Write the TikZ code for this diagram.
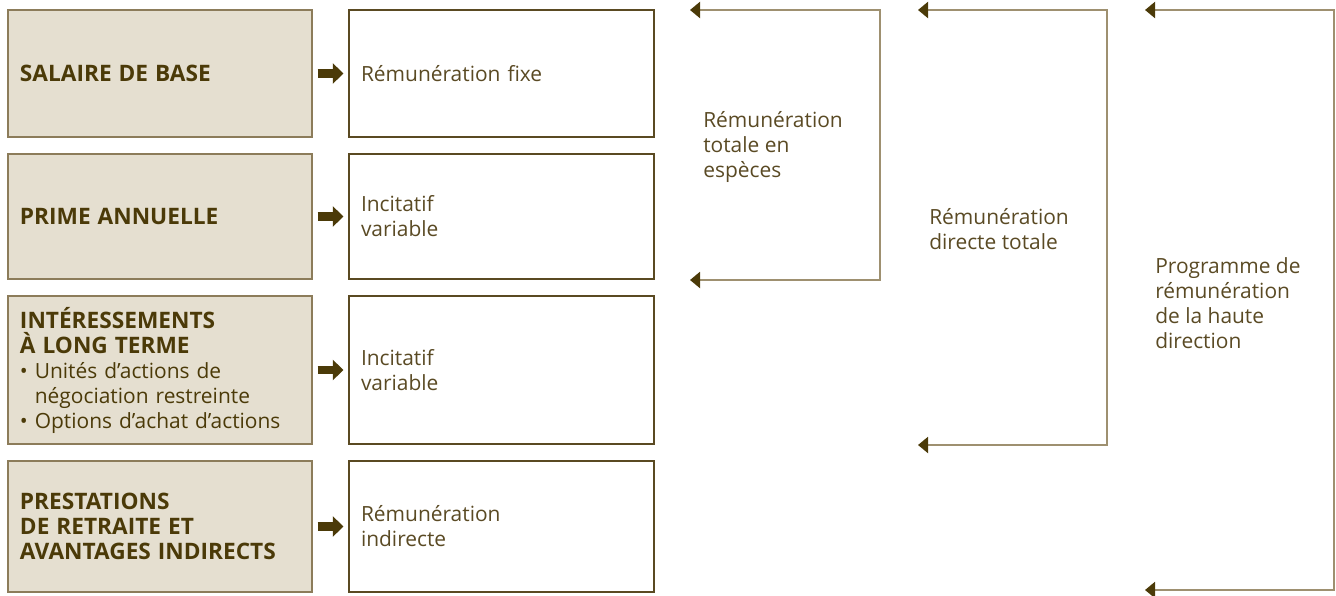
\documentclass[tikz,border=0pt]{standalone}
\usepackage{fontspec}
\setmainfont{Open Sans}
\usetikzlibrary{arrows.meta}
\definecolor{sand}{HTML}{E5DFD0}
\definecolor{sandline}{HTML}{8C7C5A}
\definecolor{boxline}{HTML}{5A4A22}
\definecolor{headbrown}{HTML}{4B3A08}
\definecolor{txtbrown}{HTML}{5A4A24}
\definecolor{tanline}{HTML}{9E9070}
\newcommand{\headtxt}[1]{{\fontsize{17}{18.75}\selectfont\bfseries #1}}
\begin{document}
\begin{tikzpicture}[x=0.75pt, y=-0.75pt, font=\fontsize{15.7}{18.75}\selectfont,
    lbox/.style={draw=sandline, fill=sand, line width=1.1pt, minimum width=228pt, text width=210pt, inner xsep=9pt, align=left, text=headbrown},
    rbox/.style={draw=boxline, line width=0.8pt, minimum width=228.75pt, text width=210.75pt, inner xsep=9pt, align=left, text=txtbrown},
    blockarrow/.style={draw=headbrown, line width=6.5pt, -{Triangle[length=8pt, width=15pt]}},
    bracket/.style={draw=tanline, line width=1.5pt, {Triangle[length=7.5pt, width=12pt, color=headbrown]}-{Triangle[length=7.5pt, width=12pt, color=headbrown]}},
    sumtext/.style={anchor=west, align=left, text=txtbrown, inner sep=0pt}]
  \useasboundingbox (0,0) rectangle (1336,596);
  % left column
  \node[lbox, minimum height=95.25pt] (l1) at (160,73.5) {\headtxt{SALAIRE DE BASE}};
  \node[lbox, minimum height=93.75pt] (l2) at (160,216.5) {\headtxt{PRIME ANNUELLE}};
  \node[lbox, minimum height=111pt] (l3) at (160,370) {\headtxt{INTÉRESSEMENTS}\\\headtxt{À LONG TERME}\\
    \textbullet~Unités d’actions de\\\hphantom{\textbullet~}négociation restreinte\\\textbullet~Options d’achat d’actions};
  \node[lbox, minimum height=98.25pt] (l4) at (160,526.5) {\headtxt{PRESTATIONS}\\\headtxt{DE RETRAITE ET}\\\headtxt{AVANTAGES INDIRECTS}};
  % right column
  \node[rbox, minimum height=95.25pt] (r1) at (501.5,73.5) {Rémunération fixe};
  \node[rbox, minimum height=93.75pt] (r2) at (501.5,216.5) {Incitatif\\variable};
  \node[rbox, minimum height=111pt] (r3) at (501.5,370) {Incitatif\\variable};
  \node[rbox, minimum height=98.25pt] (r4) at (501.5,526.5) {Rémunération\\indirecte};
  \foreach \i in {1,...,4}
    \draw[blockarrow] ([xshift=3.75pt]l\i.east) -- ([xshift=-3.75pt]r\i.west);
  % brackets
  \coordinate (a1) at (690,10);   \coordinate (b1) at (690,280);
  \coordinate (a2) at (918,10);   \coordinate (b2) at (918,445);
  \coordinate (a3) at (1145,10);  \coordinate (b3) at (1145,590);
  \draw[bracket] (a1) -- (880,10) -- (880,280) -- (b1);
  \draw[bracket] (a2) -- (1107,10) -- (1107,445) -- (b2);
  \draw[bracket] (a3) -- (1334,10) -- (1334,590) -- (b3);
  \node[sumtext] (t1) at (703,147) {Rémunération\\totale en\\espèces};
  \node[sumtext] (t2) at (929,229) {Rémunération\\directe totale};
  \node[sumtext] (t3) at (1155,303) {Programme de\\rémunération\\de la haute\\direction};
\end{tikzpicture}
\end{document}
